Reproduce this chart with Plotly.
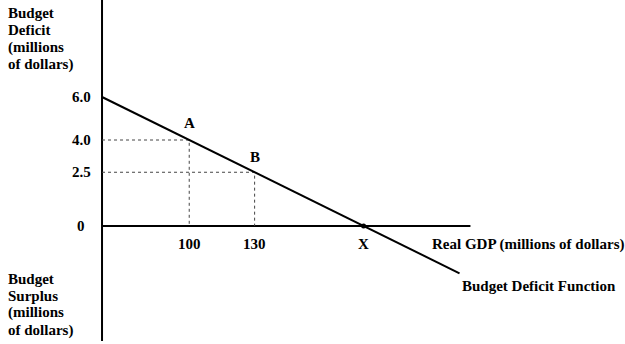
import plotly.graph_objects as go

# ---- data ----
gdp_axis_start = 60          # GDP where the vertical axis sits
gdp_axis_end = 229           # end of horizontal axis
gdp_line_end = 224           # end of budget deficit function line
point_labels = ["A", "B"]
point_gdp = [100, 130]
point_deficit = [4.0, 2.5]
x_zero_gdp = 180             # point X (balanced budget)
y_tick_vals = [6.0, 4.0, 2.5, 0]
y_tick_text = ["6.0", "4.0", "2.5", "0"]
x_tick_vals = [100, 130, 180]
x_tick_text = ["100", "130", "X"]
deficit_label = ["Budget", "Deficit", "(millions", "of dollars)"]
surplus_label = ["Budget", "Surplus", "(millions", "of dollars)"]

slope = (point_deficit[1] - point_deficit[0]) / (point_gdp[1] - point_gdp[0])
def deficit(g):
    return point_deficit[0] + slope * (g - point_gdp[0])

FONT = "Liberation Serif"
fs = 15
fig = go.Figure()

# axes
fig.add_trace(go.Scatter(x=[gdp_axis_start, gdp_axis_start], y=[10.6, -5.35], mode="lines",
                         line=dict(color="black", width=2), hoverinfo="skip"))
fig.add_trace(go.Scatter(x=[gdp_axis_start, gdp_axis_end], y=[0, 0], mode="lines",
                         line=dict(color="black", width=2), hoverinfo="skip"))

# dotted guides
for g, d in zip(point_gdp, point_deficit):
    fig.add_trace(go.Scatter(x=[gdp_axis_start, g, g], y=[d, d, 0], mode="lines",
                             line=dict(color="#444444", width=1, dash="dot"), hoverinfo="skip"))

# budget deficit function
fig.add_trace(go.Scatter(x=[gdp_axis_start, gdp_line_end],
                         y=[deficit(gdp_axis_start), deficit(gdp_line_end)], mode="lines",
                         line=dict(color="black", width=2), hoverinfo="skip"))
fig.add_trace(go.Scatter(x=[x_zero_gdp], y=[0], mode="markers",
                         marker=dict(color="black", size=5), hoverinfo="skip"))

ann = []
for v, t in zip(y_tick_vals, y_tick_text):
    ann.append(dict(x=gdp_axis_start, y=v, text=t, xanchor="center", yanchor="middle",
                    xshift=-21, showarrow=False))
for v, t in zip(x_tick_vals, x_tick_text):
    ann.append(dict(x=v, y=0, text=t, xanchor="center", yanchor="middle",
                    yshift=-18, showarrow=False))
for lab, g, d, ys in zip(point_labels, point_gdp, point_deficit, [17, 15]):
    ann.append(dict(x=g, y=d, text=lab, xanchor="center", yanchor="middle",
                    yshift=ys, showarrow=False))
ann.append(dict(x=430/625, y=1-244/344, xref="paper", yref="paper", text="Real GDP (millions of dollars)",
                xanchor="left", yanchor="middle", showarrow=False))
ann.append(dict(x=460/625, y=1-286/344, xref="paper", yref="paper", text="Budget Deficit Function",
                xanchor="left", yanchor="middle", showarrow=False))
for i, t in enumerate(deficit_label):
    ann.append(dict(x=6/625, y=1-(13 + 17.2*i)/344, xref="paper", yref="paper", text=t,
                    xanchor="left", yanchor="middle", showarrow=False))
for i, t in enumerate(surplus_label):
    ann.append(dict(x=6/625, y=1-(278.5 + 17.2*i)/344, xref="paper", yref="paper", text=t,
                    xanchor="left", yanchor="middle", showarrow=False))
for a in ann:
    a["font"] = dict(family=FONT, size=fs, color="black", weight="bold")

fig.update_layout(
    width=625, height=344, margin=dict(l=0, r=0, t=0, b=0),
    plot_bgcolor="white", paper_bgcolor="white", showlegend=False,
    xaxis=dict(range=[13.2, 299.9], visible=False, fixedrange=True),
    yaxis=dict(range=[-5.488, 10.512], visible=False, fixedrange=True),
    annotations=ann,
)
fig.write_html("out.html")
